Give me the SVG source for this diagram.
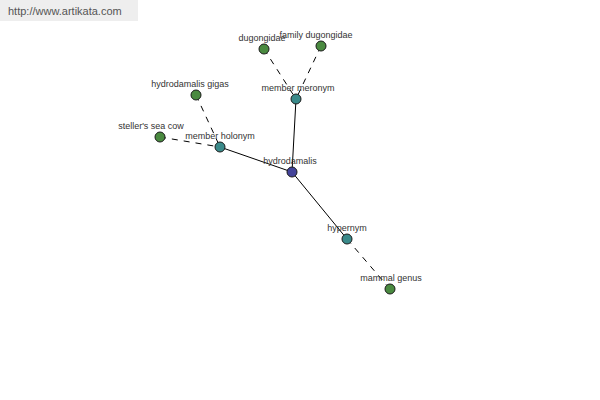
<svg xmlns="http://www.w3.org/2000/svg" width="600" height="400" viewBox="0 0 600 400">
<style>
.n{stroke:#1a1a1a;stroke-width:1}
.g{fill:#4a8a40}
.t{fill:#3a8a8a}
.b{fill:#44449a}
.l{font-family:"Liberation Sans",Arial,sans-serif;font-size:9px;fill:#333;text-anchor:middle}
.s{stroke:#000;stroke-width:1;fill:none}
.d{stroke:#000;stroke-width:1;fill:none;stroke-dasharray:6,6}
</style>
<rect width="600" height="400" fill="#fff"/>
<rect x="0" y="0" width="138" height="21" fill="#eeeeee"/>
<text x="8" y="15" style="font-family:'Liberation Sans',Arial,sans-serif;font-size:11px;fill:#555">http://www.artikata.com</text>
<g id="connectors">
<line class="s" x1="292" y1="172" x2="296" y2="99"/>
<line class="s" x1="292" y1="172" x2="220" y2="147"/>
<line class="s" x1="292" y1="172" x2="347" y2="239"/>
<line class="d" x1="264" y1="49" x2="296" y2="99"/>
<line class="d" x1="321" y1="46" x2="296" y2="99"/>
<line class="d" x1="196" y1="95" x2="220" y2="147"/>
<line class="d" x1="160" y1="137" x2="220" y2="147"/>
<line class="d" x1="390" y1="289" x2="347" y2="239"/>
</g>
<g id="hydrodamalis"><circle class="n b" cx="292" cy="172" r="5"/><text class="l" x="290" y="164">hydrodamalis</text></g>
<g id="member-meronym"><circle class="n t" cx="296" cy="99" r="5"/><text class="l" x="298" y="91">member meronym</text></g>
<g id="dugongidae"><circle class="n g" cx="264" cy="49" r="5"/><text class="l" x="262" y="41">dugongidae</text></g>
<g id="family-dugongidae"><circle class="n g" cx="321" cy="46" r="5"/><text class="l" x="316" y="38">family dugongidae</text></g>
<g id="member-holonym"><circle class="n t" cx="220" cy="147" r="5"/><text class="l" x="220" y="139">member holonym</text></g>
<g id="hydrodamalis-gigas"><circle class="n g" cx="196" cy="95" r="5"/><text class="l" x="190" y="87">hydrodamalis gigas</text></g>
<g id="stellers-sea-cow"><circle class="n g" cx="160" cy="137" r="5"/><text class="l" x="151" y="129">steller's sea cow</text></g>
<g id="hypernym"><circle class="n t" cx="347" cy="239" r="5"/><text class="l" x="347" y="231">hypernym</text></g>
<g id="mammal-genus"><circle class="n g" cx="390" cy="289" r="5"/><text class="l" x="391" y="281">mammal genus</text></g>
</svg>
